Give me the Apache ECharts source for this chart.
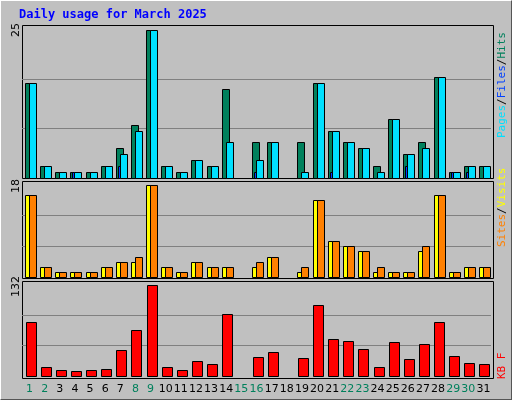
<!DOCTYPE html><html><head><meta charset="utf-8">
<script src="https://cdn.jsdelivr.net/npm/echarts@6/dist/echarts.min.js"></script>
<style>html,body{margin:0;padding:0;background:#c0c0c0}#c{width:510px;height:398px;border:1px solid;border-color:#fff #555 #555 #fff}</style>
</head><body><div id="c"></div><script>
const days=['1','2','3','4','5','6','7','8','9','10','11','12','13','14','15','16','17','18','19','20','21','22','23','24','25','26','27','28','29','30','31'];
const weekend=['1','2','8','9','15','16','22','23','29','30'];
const hits=[16,2,1,1,1,2,5,9,25,2,1,3,2,15,0,6,6,0,6,16,8,6,5,2,10,4,6,17,1,2,2];
const files=[0,0,0,1,0,0,2,0,0,0,0,0,0,0,0,1,0,0,0,0,1,0,0,0,0,2,0,0,1,1,0];
const pages=[16,2,1,1,1,2,4,8,25,2,1,3,2,6,0,3,6,0,1,16,8,6,5,1,10,4,5,17,1,2,2];
const visits=[16,2,1,1,1,2,3,3,18,2,1,3,2,2,0,2,4,0,1,15,7,6,5,1,1,1,5,16,1,2,2];
const sites=[16,2,1,1,1,2,3,4,18,2,1,3,2,2,0,3,4,0,2,15,7,6,5,2,1,1,6,16,1,2,2];
const kbytes=[78,13,9,7,9,10,38,67,132,13,9,22,17,90,0,28,35,0,26,103,54,51,39,13,49,25,46,78,29,19,17];
const maxTop=25,maxMid=18,maxBot=132;

const chart=echarts.init(document.getElementById('c'));
function bar(data,xi,color,off,w){
  return {type:'custom',xAxisIndex:xi,yAxisIndex:xi,data:data.map((v,i)=>[i,v]),
    renderItem:(p,api)=>{const v=api.value(1);if(!v)return null;
      const top=api.coord([api.value(0),v]),bot=api.coord([api.value(0),0]);
      return {type:'rect',shape:{x:Math.round(top[0]+off)+0.5,y:Math.round(top[1])+0.5,width:w,height:Math.round(bot[1]-top[1])},
        style:{fill:color,stroke:'#000',lineWidth:1}};}};
}
const grids=[{left:21,right:20,top:29,height:148},{left:21,right:20,top:184,height:92},{left:21,right:20,top:284,height:91}];
const frames=[[21,24,471,153],[21,180,471,97],[21,280,471,97]];
const maxes=[maxTop,maxMid,maxBot];
const xAxes=grids.map((g,i)=>({type:'category',gridIndex:i,data:days,boundaryGap:true,
  axisLine:{show:false},axisTick:{show:false},
  axisLabel:{show:i===2,interval:0,margin:8,fontFamily:'DejaVu Sans',fontSize:11,
    color:(v)=>weekend.includes(v)?'#00805c':'#000'}}));
const yAxes=grids.map((g,i)=>({type:'value',gridIndex:i,min:0,max:maxes[i],interval:maxes[i]/3,
  axisLabel:{show:false},axisLine:{show:false},axisTick:{show:false},
  splitLine:{showMaxLine:false,showMinLine:false,lineStyle:{color:'#808080',width:1}}}));
const mono='DejaVu Sans Mono';
chart.setOption({
  animation:false,backgroundColor:'#c0c0c0',
  grid:grids,
  xAxis:xAxes,yAxis:yAxes,
  series:[bar(hits,0,'#00805c',-4.5,7),bar(files,0,'#0040ff',-2.5,2),bar(pages,0,'#00e0ff',-0.5,7),
    bar(visits,1,'#ffff00',-4.5,7),bar(sites,1,'#ff8000',-0.5,7),bar(kbytes,2,'#ff0000',-4,10)],
  graphic:frames.map(f=>({type:'rect',z:-1,shape:{x:f[0]+0.5,y:f[1]+0.5,width:f[2],height:f[3]},style:{fill:'#c0c0c0',stroke:'#000',lineWidth:1}})).concat([
    {type:'text',left:18,top:8,style:{text:'Daily usage for March 2025',fill:'#0000ff',font:'bold 12px "DejaVu Sans Mono"'}},
    {type:'text',x:10,y:36,rotation:Math.PI/2,style:{text:String(maxTop),fill:'#000',font:'11px "DejaVu Sans"'}},
    {type:'text',x:10,y:192,rotation:Math.PI/2,style:{text:String(maxMid),fill:'#000',font:'11px "DejaVu Sans"'}},
    {type:'text',x:10,y:296,rotation:Math.PI/2,style:{text:String(maxBot),fill:'#000',font:'11px "DejaVu Sans"'}},
    {type:'text',x:496,y:137,rotation:Math.PI/2,style:{text:'{p|Pages}{s|/}{f|Files}{s|/}{h|Hits}',font:'11px "'+mono+'"',
      rich:{p:{fill:'#00e0ff',font:'11px "'+mono+'"'},f:{fill:'#0040ff',font:'11px "'+mono+'"'},h:{fill:'#00805c',font:'11px "'+mono+'"'},s:{fill:'#000',font:'11px "'+mono+'"'}}}},
    {type:'text',x:496,y:246,rotation:Math.PI/2,style:{text:'{o|Sites}{s|/}{y|Visits}',font:'11px "'+mono+'"',
      rich:{o:{fill:'#ff8000',font:'11px "'+mono+'"'},y:{fill:'#ffff00',font:'11px "'+mono+'"'},s:{fill:'#000',font:'11px "'+mono+'"'}}}},
    {type:'text',x:496,y:378,rotation:Math.PI/2,style:{text:'KB F',fill:'#ff0000',font:'11px "'+mono+'"'}}
  ])
});
</script></body></html>
